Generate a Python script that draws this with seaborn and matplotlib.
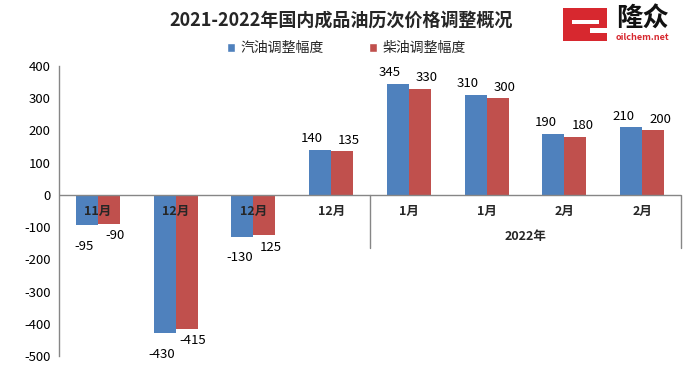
import matplotlib
matplotlib.use('Agg')
import matplotlib.pyplot as plt
import seaborn as sns
import pandas as pd
from matplotlib.patches import Rectangle, Patch

# ---------------- data ----------------
title = '2021-2022年国内成品油历次价格调整概况'
categories = ['11月', '12月', '12月', '12月', '1月', '1月', '2月', '2月']
year_group_label = '2022年'
series_names = ['汽油调整幅度', '柴油调整幅度']
gasoline = [-95, -430, -130, 140, 345, 310, 190, 210]
diesel = [-90, -415, -125, 135, 330, 300, 180, 200]
gasoline_labels = ['-95', '-430', '-130', '140', '345', '310', '190', '210']
diesel_labels = ['-90', '-415', '125', '135', '330', '300', '180', '200']
yticks = [-500, -400, -300, -200, -100, 0, 100, 200, 300, 400]

colors = ['#4F81BD', '#C0504D']
axis_gray = '#868686'

sns.set_style('white')
plt.rcParams['font.family'] = ['Noto Sans CJK SC', 'DejaVu Sans']

n = len(categories)
df = pd.DataFrame({
    'pos': list(range(n)) * 2,
    'value': gasoline + diesel,
    'series': [series_names[0]] * n + [series_names[1]] * n,
})

fig = plt.figure(figsize=(6.94, 3.73), dpi=100)
ax = fig.add_axes([0.085, 0.0456, 0.8963, 0.7775])

sns.barplot(data=df, x='pos', y='value', hue='series', hue_order=series_names,
            palette=colors, width=0.565, saturation=1, errorbar=None,
            legend=False, linewidth=0, edgecolor='none', ax=ax)

ax.set_xlim(-0.5, n - 0.5)
ax.set_ylim(min(yticks), max(yticks))
ax.set_yticks(yticks)
ax.set_yticklabels([str(v) for v in yticks], fontsize=9.5, color='#000000')
ax.tick_params(axis='y', length=0, pad=6)
ax.set_xticks([])
ax.set_xlabel('')
ax.set_ylabel('')
for s in ['top', 'right', 'bottom']:
    ax.spines[s].set_visible(False)
ax.spines['left'].set_color(axis_gray)
ax.spines['left'].set_linewidth(1)
ax.axhline(0, color=axis_gray, lw=1, zorder=3)

# group separators
for xs in [3.5, n - 0.5]:
    ax.plot([xs, xs], [0, -165], color=axis_gray, lw=1, clip_on=False, zorder=3)

# category labels inside the plot
for i, c in enumerate(categories):
    ax.text(i, -52, c, ha='center', va='center', fontsize=9, fontweight='bold',
            zorder=5)
ax.text(5.5, -129, year_group_label, ha='center', va='center', fontsize=9,
        fontweight='bold')

# data labels
label_sets = [gasoline_labels, diesel_labels]
dx_pos = [-8, 7]
dx_neg = [-3, 6]
dy_neg = [-21, -12]
for k, cont in enumerate(ax.containers):
    for j, bar in enumerate(cont):
        h = bar.get_height()
        xc = bar.get_x() + bar.get_width() / 2
        if h >= 0:
            off = (dx_pos[k], 11)
        else:
            off = (dx_neg[k], dy_neg[k])
        ax.annotate(label_sets[k][j], xy=(xc, h), xytext=off,
                    textcoords='offset pixels', ha='center', va='center',
                    fontsize=9.5, color='#000000')

# title
fig.text(0.492, 0.946, title, ha='center', va='center', fontsize=13,
         fontweight='bold')

# legend
handles = [Patch(facecolor=colors[0]), Patch(facecolor=colors[1])]
fig.legend(handles, series_names, loc='center', bbox_to_anchor=(0.499, 0.871),
           ncol=2, frameon=False, fontsize=10, handlelength=0.6,
           handleheight=0.6, handletextpad=0.4, columnspacing=3.2)

# logo
fig.patches.append(Rectangle((563 / 694, 1 - 41 / 373), 44 / 694, 33 / 373,
                             transform=fig.transFigure, facecolor='#D7282F',
                             edgecolor='none'))
fig.patches.append(Rectangle((572 / 694, 1 - 24 / 373), 27 / 694, 4 / 373,
                             transform=fig.transFigure, facecolor='white',
                             edgecolor='none'))
fig.patches.append(Rectangle((590 / 694, 1 - 33 / 373), 17 / 694, 5 / 373,
                             transform=fig.transFigure, facecolor='white',
                             edgecolor='none'))
fig.text(642 / 694, 1 - 19 / 373, '隆众', ha='center', va='center',
         fontsize=19, fontweight='bold', color='#111111')
fig.text(642 / 694, 1 - 37 / 373, 'oilchem.net', ha='center', va='center',
         fontsize=6.5, fontweight='bold', color='#D7282F')

fig.savefig('out.png', dpi=100)
